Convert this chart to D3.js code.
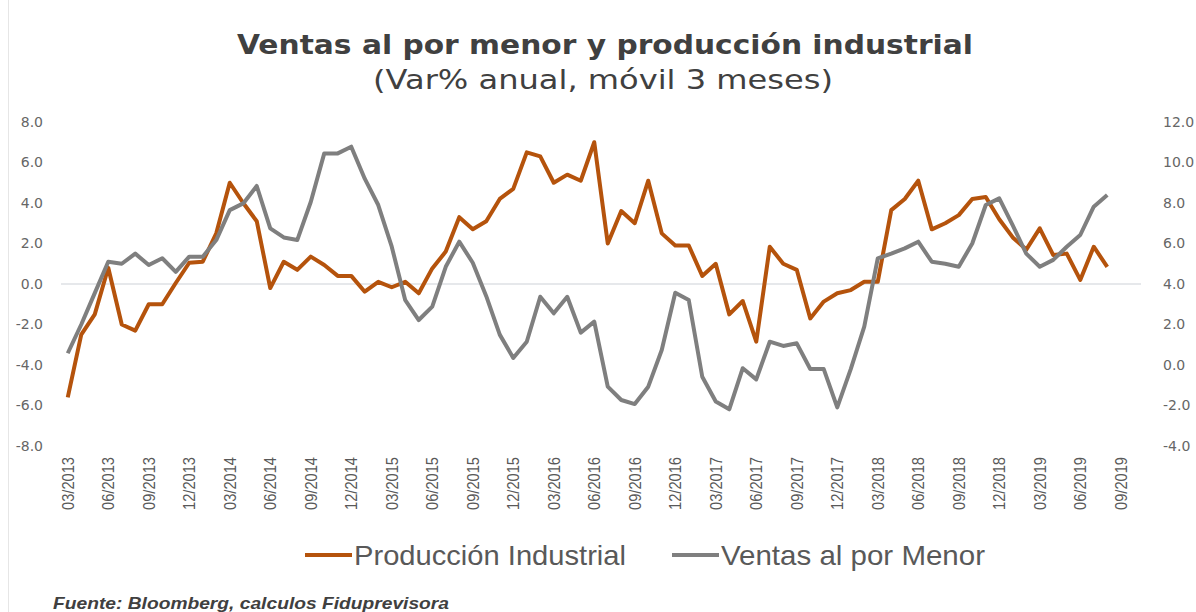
<!DOCTYPE html>
<html>
<head>
<meta charset="utf-8">
<script src="https://d3js.org/d3.v7.min.js"></script>
<style>
  body { margin: 0; background: #fff; }
  svg { display: block; }
</style>
</head>
<body>
<div id="chart"></div>
<script>
// months on the category axis (03/2013 .. 10/2019), data runs to 08/2019
var months = d3.timeMonth.range(new Date(2013, 2, 1), new Date(2019, 10, 1));
var fmtMonth = d3.timeFormat("%m/%Y");

// Producción Industrial (left axis, %)
var produccion = [
  -5.6, -2.5, -1.5, 0.8, -2.0, -2.3, -1.0, -1.0, 0.05, 1.05, 1.1, 2.5,
  5.0, 4.0, 3.1, -0.2, 1.1, 0.7, 1.35, 0.94, 0.4, 0.4, -0.38, 0.11,
  -0.16, 0.11, -0.46, 0.77, 1.6, 3.3, 2.7, 3.1, 4.2, 4.7, 6.5, 6.3,
  5.0, 5.4, 5.1, 7.0, 2.0, 3.6, 3.0, 5.1, 2.5, 1.9, 1.9, 0.4,
  1.0, -1.5, -0.84, -2.85, 1.84, 1.0, 0.7, -1.7, -0.87, -0.46, -0.3, 0.11,
  0.11, 3.65, 4.2, 5.1, 2.7, 3.0, 3.4, 4.2, 4.3, 3.2, 2.3, 1.7,
  2.75, 1.43, 1.5, 0.2, 1.84, 0.85
];

// Ventas al por Menor (right axis, %)
var ventas = [
  0.58, 2.0, 3.55, 5.1, 5.0, 5.5, 4.94, 5.27, 4.6, 5.35, 5.35, 6.17,
  7.65, 7.98, 8.84, 6.75, 6.3, 6.17, 8.05, 10.45, 10.45, 10.78, 9.2, 7.9,
  5.84, 3.2, 2.22, 2.88, 4.85, 6.09, 5.05, 3.4, 1.5, 0.35, 1.15, 3.37,
  2.55, 3.37, 1.6, 2.14, -1.07, -1.73, -1.93, -1.07, 0.74, 3.57, 3.21, -0.58,
  -1.8, -2.19, -0.16, -0.71, 1.15, 0.94, 1.07, -0.2, -0.2, -2.09, -0.2, 1.9,
  5.27, 5.5, 5.76, 6.09, 5.1, 5.0, 4.85, 6.0, 7.9, 8.23, 6.9, 5.5,
  4.85, 5.19, 5.84, 6.42, 7.82, 8.4
];

var leftTicks = [-8, -6, -4, -2, 0, 2, 4, 6, 8];
var rightTicks = [-4, -2, 0, 2, 4, 6, 8, 10, 12];
var seriesNames = ["Producción Industrial", "Ventas al por Menor"];

var width = 1196, height = 612;
var colProd = "#b5530c", colVentas = "#7f7f7f";
var textCol = "#595959";

var svg = d3.select("#chart").append("svg")
  .attr("width", width)
  .attr("height", height);

// faint frame line on the left
svg.append("line")
  .attr("x1", 8.5).attr("x2", 8.5)
  .attr("y1", 0).attr("y2", height)
  .attr("stroke", "#e6e6e6");

// scales
var xScale = d3.scaleBand()
  .domain(months.map(fmtMonth))
  .range([61, 1141]);

var xMid = function(i) { return xScale(fmtMonth(months[i])) + xScale.bandwidth() / 2; };

var yLeft = d3.scaleLinear().domain([-8, 8]).range([446, 122]);
var yRight = d3.scaleLinear().domain([-4, 12]).range([446, 122]);

// title
svg.append("text")
  .attr("x", 605).attr("y", 54)
  .attr("text-anchor", "middle")
  .attr("font-family", "DejaVu Sans")
  .attr("font-weight", "bold")
  .attr("font-size", 27)
  .attr("fill", "#404040")
  .attr("textLength", 736)
  .attr("lengthAdjust", "spacingAndGlyphs")
  .text("Ventas al por menor y producción industrial");

svg.append("text")
  .attr("x", 603).attr("y", 89)
  .attr("text-anchor", "middle")
  .attr("font-family", "DejaVu Sans")
  .attr("font-size", 27)
  .attr("fill", "#404040")
  .attr("textLength", 460)
  .attr("lengthAdjust", "spacingAndGlyphs")
  .text("(Var% anual, móvil 3 meses)");

// zero line
svg.append("line")
  .attr("x1", 61).attr("x2", 1141)
  .attr("y1", yLeft(0)).attr("y2", yLeft(0))
  .attr("stroke", "#cdd1d7")
  .attr("stroke-width", 1.2);

// left axis
var leftAxis = svg.append("g")
  .attr("transform", "translate(46,0)")
  .call(d3.axisLeft(yLeft).tickValues(leftTicks).tickSize(0).tickPadding(3)
    .tickFormat(function(d) { return d.toFixed(1); }));
leftAxis.select(".domain").remove();
leftAxis.selectAll("text")
  .attr("font-family", "DejaVu Sans")
  .attr("font-size", 14)
  .attr("fill", "#666");

// right axis
var rightAxis = svg.append("g")
  .attr("transform", "translate(1160,0)")
  .call(d3.axisRight(yRight).tickValues(rightTicks).tickSize(0).tickPadding(3)
    .tickFormat(function(d) { return d.toFixed(1); }));
rightAxis.select(".domain").remove();
rightAxis.selectAll("text")
  .attr("font-family", "DejaVu Sans")
  .attr("font-size", 14)
  .attr("fill", "#666");

// bottom axis, every third month
var tickLabels = months.map(fmtMonth).filter(function(d, i) { return i % 3 === 0 && i < 79; });
var bottomAxis = svg.append("g")
  .attr("transform", "translate(0,457)")
  .call(d3.axisBottom(xScale).tickValues(tickLabels).tickSize(0));
bottomAxis.select(".domain").remove();
bottomAxis.selectAll("text")
  .attr("font-family", "Liberation Sans")
  .attr("font-size", 17)
  .attr("fill", textCol)
  .attr("text-anchor", "end")
  .attr("transform", "rotate(-90)")
  .attr("x", 0)
  .attr("y", 0)
  .attr("dx", 0)
  .attr("dy", "0.36em")
  .attr("textLength", 53)
  .attr("lengthAdjust", "spacingAndGlyphs");

// lines
var lineLeft = d3.line()
  .x(function(d, i) { return xMid(i); })
  .y(function(d) { return yLeft(d); });

var lineRight = d3.line()
  .x(function(d, i) { return xMid(i); })
  .y(function(d) { return yRight(d); });

svg.append("path")
  .datum(produccion)
  .attr("d", lineLeft)
  .attr("fill", "none")
  .attr("stroke", colProd)
  .attr("stroke-width", 4)
  .attr("stroke-linejoin", "round");

svg.append("path")
  .datum(ventas)
  .attr("d", lineRight)
  .attr("fill", "none")
  .attr("stroke", colVentas)
  .attr("stroke-width", 4)
  .attr("stroke-linejoin", "round");

// legend
var legend = svg.append("g");
var legendItems = [
  { name: seriesNames[0], color: colProd, x: 305, w: 272 },
  { name: seriesNames[1], color: colVentas, x: 672, w: 264 }
];
legendItems.forEach(function(d) {
  legend.append("line")
    .attr("x1", d.x).attr("x2", d.x + 47)
    .attr("y1", 555).attr("y2", 555)
    .attr("stroke", d.color)
    .attr("stroke-width", 4);
  legend.append("text")
    .attr("x", d.x + 49).attr("y", 565)
    .attr("font-family", "Liberation Sans")
    .attr("font-size", 28)
    .attr("fill", textCol)
    .attr("textLength", d.w)
    .attr("lengthAdjust", "spacingAndGlyphs")
    .text(d.name);
});

// source
svg.append("text")
  .attr("x", 53).attr("y", 609)
  .attr("font-family", "Liberation Sans")
  .attr("font-weight", "bold")
  .attr("font-style", "italic")
  .attr("font-size", 17)
  .attr("fill", "#404040")
  .attr("textLength", 396)
  .attr("lengthAdjust", "spacingAndGlyphs")
  .text("Fuente: Bloomberg, calculos Fiduprevisora");
</script>
</body>
</html>
